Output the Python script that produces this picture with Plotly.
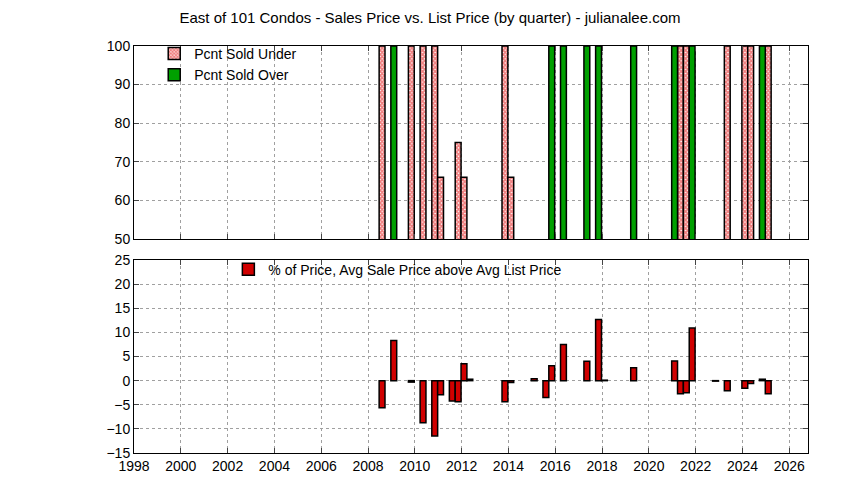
import plotly.graph_objects as go
from plotly.subplots import make_subplots

under_q = [2008.6, 2009.85, 2010.35, 2010.85, 2011.1, 2011.85, 2012.1, 2013.85, 2014.1,
           2021.35, 2021.6, 2023.35, 2024.1, 2024.35, 2025.1]
under_v = [100, 100, 100, 100, 66, 75, 66, 100, 66, 100, 100, 100, 100, 100, 100]
over_q = [2009.1, 2015.85, 2016.35, 2017.35, 2017.85, 2019.35, 2021.1, 2021.85, 2024.85]
over_v = [100, 100, 100, 100, 100, 100, 100, 100, 100]
pct_q = [2008.6, 2009.1, 2009.85, 2010.35, 2010.85, 2011.1, 2011.6, 2011.85, 2012.1, 2012.35,
         2013.85, 2014.1, 2015.1, 2015.6, 2015.85, 2016.35, 2017.35, 2017.85, 2018.1, 2019.35,
         2021.1, 2021.35, 2021.6, 2021.85, 2022.85, 2023.35, 2024.1, 2024.35, 2024.85, 2025.1]
pct_v = [-5.6, 8.3, -0.3, -8.75, -11.45, -2.9, -4.2, -4.4, 3.5, 0.3,
         -4.4, -0.4, 0.4, -3.5, 3.1, 7.5, 4.0, 12.7, 0.1, 2.7,
         4.1, -2.7, -2.5, 10.9, -0.1, -2.1, -1.6, -0.6, 0.3, -2.7]

fig = make_subplots(rows=2, cols=1, vertical_spacing=0.052)
fig.add_trace(go.Bar(x=under_q, y=under_v, width=0.25, name="Pcnt Sold Under",
                     marker=dict(color="white", line=dict(color="black", width=1.5),
                                 pattern=dict(shape="x", fgcolor="#e00000", bgcolor="white", size=3, solidity=0.8)),
                     legendgroup="a"), row=1, col=1)
fig.add_trace(go.Bar(x=over_q, y=over_v, width=0.25, name="Pcnt Sold Over",
                     marker=dict(color="#00a000", line=dict(color="black", width=1.5)),
                     legendgroup="a"), row=1, col=1)
fig.add_trace(go.Bar(x=pct_q, y=pct_v, width=0.25, name="% of Price, Avg Sale Price above Avg List Price",
                     marker=dict(color="#d00000", line=dict(color="black", width=1.5)),
                     legend="legend2"), row=2, col=1)

ax = dict(showline=True, linecolor="black", linewidth=1, mirror="ticks", ticks="inside", ticklen=5,
          showgrid=True, gridcolor="#a0a0a0", griddash="dot", gridwidth=1, zeroline=False,
          tickfont=dict(size=14, color="black"), automargin=False)
fig.update_xaxes(**ax, range=[1998, 2026.8], tick0=1998, dtick=2)
fig.update_xaxes(showticklabels=False, row=1, col=1)
fig.update_yaxes(**ax)
fig.update_yaxes(range=[50, 100], dtick=10, row=1, col=1)
fig.update_yaxes(range=[-15, 25], dtick=5, row=2, col=1)

fig.update_layout(
    width=844, height=480, barmode="overlay",
    margin=dict(l=126, r=44, t=38, b=35, autoexpand=False),
    plot_bgcolor="white", paper_bgcolor="white",
    font=dict(family="Liberation Sans, Arial", size=14, color="black"),
    title=dict(text="East of 101 Condos - Sales Price vs. List Price (by quarter) - julianalee.com",
               x=0.5, xanchor="center", y=0.99, yanchor="top", font=dict(size=15),
               automargin=False),
    legend=dict(x=0.03, y=1.02, xanchor="left", yanchor="top", bgcolor="rgba(0,0,0,0)",
                font=dict(size=14), tracegroupgap=0),
    legend2=dict(x=0.14, y=0.49, xanchor="left", yanchor="top", bgcolor="rgba(0,0,0,0)",
                 font=dict(size=14)),
    showlegend=True,
)
fig.write_html("out.html")
